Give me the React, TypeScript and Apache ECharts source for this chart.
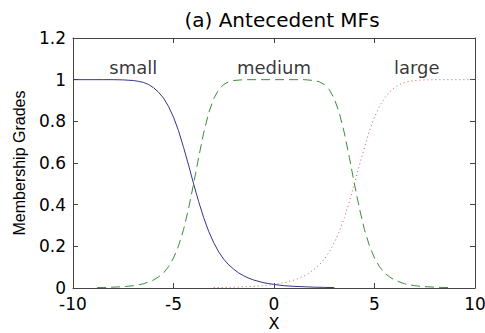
import React, { useEffect, useRef } from "react";
import * as echarts from "echarts";

const smallX = [-10, -9.5, -9, -8.5, -8, -7.5, -7, -6.75, -6.5, -6.25, -6, -5.75, -5.5, -5.25, -5, -4.75, -4.5, -4.25, -4, -3.75, -3.5, -3.25, -3, -2.75, -2.5, -2.25, -2, -1.75, -1.5, -1.25, -1, -0.5, 0, 0.5, 1, 1.5, 2, 2.5, 3];
const smallY = [1, 1, 1, 1, 1, 0.999, 0.996, 0.992, 0.987, 0.977, 0.962, 0.94, 0.912, 0.872, 0.82, 0.755, 0.675, 0.59, 0.5, 0.415, 0.338, 0.272, 0.218, 0.173, 0.138, 0.111, 0.09, 0.072, 0.058, 0.047, 0.038, 0.025, 0.017, 0.011, 0.008, 0.006, 0.004, 0.003, 0.002];

const mediumX = [-8.8, -8.5, -8, -7.5, -7, -6.5, -6, -5.75, -5.5, -5.25, -5, -4.75, -4.5, -4.25, -4, -3.75, -3.5, -3.25, -3, -2.75, -2.5, -2.25, -2, -1.5, -1, -0.5, 0, 0.5, 1, 1.5, 2, 2.25, 2.5, 2.75, 3, 3.25, 3.5, 3.75, 4, 4.25, 4.5, 4.75, 5, 5.25, 5.5, 5.75, 6, 6.5, 7, 7.5, 8, 8.5, 8.8];
const mediumY = [0.002, 0.0024, 0.004, 0.0065, 0.011, 0.02, 0.038, 0.053, 0.072, 0.102, 0.144, 0.202, 0.28, 0.382, 0.5, 0.626, 0.744, 0.84, 0.909, 0.952, 0.977, 0.99, 0.996, 1, 1, 1, 1, 1, 1, 1, 0.996, 0.99, 0.977, 0.952, 0.909, 0.84, 0.744, 0.626, 0.5, 0.382, 0.28, 0.202, 0.144, 0.102, 0.072, 0.053, 0.038, 0.02, 0.011, 0.0065, 0.004, 0.0024, 0.002];

const largeX = [-3, -2.5, -2, -1.5, -1, -0.5, 0, 0.5, 1, 1.25, 1.5, 1.75, 2, 2.25, 2.5, 2.75, 3, 3.25, 3.5, 3.75, 4, 4.25, 4.5, 4.75, 5, 5.25, 5.5, 5.75, 6, 6.25, 6.5, 6.75, 7, 7.5, 8, 8.5, 9, 9.5, 10];
const largeY = [0.002, 0.003, 0.004, 0.006, 0.008, 0.011, 0.017, 0.025, 0.038, 0.047, 0.058, 0.072, 0.09, 0.111, 0.138, 0.173, 0.218, 0.272, 0.338, 0.415, 0.5, 0.59, 0.675, 0.755, 0.82, 0.872, 0.912, 0.94, 0.962, 0.977, 0.987, 0.992, 0.996, 0.999, 1, 1, 1, 1, 1];

const labelNames = ["small", "medium", "large"];
const labelX = [-7, 0, 7.1];
const labelY = [1.06, 1.06, 1.06];

const xTicks = { min: -10, max: 10, interval: 5 };
const yTicks = { min: 0, max: 1.2, interval: 0.2 };

const zip = (xs: number[], ys: number[]) => xs.map((x, i) => [x, ys[i]]);

export default function App() {
  const ref = useRef<HTMLDivElement>(null);
  useEffect(() => {
    if (!ref.current) return;
    const chart = echarts.init(ref.current, null, { renderer: "svg" });
    const wide = "DejaVu Sans";
    const axisColor = "#444";
    const tickStyle = { show: true, inside: true, length: 5, lineStyle: { color: axisColor } };
    const line = { show: true, onZero: false, lineStyle: { color: axisColor } };
    chart.setOption({
      animation: false,
      backgroundColor: "#fff",
      title: {
        text: "(a) Antecedent MFs",
        left: 277,
        top: 5,
        textAlign: "center",
        textStyle: { fontFamily: wide, fontSize: 20, fontWeight: "normal", color: "#000" },
      },
      grid: { left: 73, right: 10, top: 38, bottom: 45, containLabel: false, outerBoundsMode: "none" },
      xAxis: [
        {
          type: "value",
          ...xTicks,
          position: "bottom",
          name: "X",
          nameLocation: "middle",
          nameGap: 27,
          nameMoveOverlap: false,
          nameTextStyle: { fontFamily: wide, fontSize: 16, color: "#000", lineHeight: 16 },
          axisLine: line,
          axisTick: tickStyle,
          axisLabel: { fontFamily: wide, fontSize: 17, color: "#000", margin: 9, lineHeight: 14 },
          splitLine: { show: false },
        },
        {
          type: "value",
          ...xTicks,
          position: "top",
          axisLine: line,
          axisTick: tickStyle,
          axisLabel: { show: false },
          splitLine: { show: false },
        },
      ],
      yAxis: [
        {
          type: "value",
          ...yTicks,
          position: "left",
          name: "Membership Grades",
          nameLocation: "middle",
          nameGap: 46,
          nameMoveOverlap: false,
          nameTextStyle: { fontFamily: "Liberation Sans", fontSize: 16, color: "#000" },
          axisLine: line,
          axisTick: tickStyle,
          axisLabel: { fontFamily: wide, fontSize: 17, color: "#000", margin: 7, lineHeight: 14 },
          splitLine: { show: false },
        },
        {
          type: "value",
          ...yTicks,
          position: "right",
          axisLine: line,
          axisTick: tickStyle,
          axisLabel: { show: false },
          splitLine: { show: false },
        },
      ],
      series: [
        {
          type: "line",
          name: "small",
          data: zip(smallX, smallY),
          showSymbol: false,
          lineStyle: { color: "#34348f", width: 1, type: "solid" },
        },
        {
          type: "line",
          name: "medium",
          data: zip(mediumX, mediumY),
          showSymbol: false,
          lineStyle: { color: "#3c8c3c", width: 1, type: [9, 5] },
        },
        {
          type: "line",
          name: "large",
          data: zip(largeX, largeY),
          showSymbol: false,
          lineStyle: { color: "#cc5a5a", width: 1, type: [1, 3] },
        },
        {
          type: "scatter",
          symbolSize: 0,
          data: labelNames.map((n, i) => ({ name: n, value: [labelX[i], labelY[i]] })),
          label: {
            show: true,
            position: "inside",
            formatter: (p: any) => p.name,
            fontFamily: wide,
            fontSize: 18,
            color: "#000",
          },
          silent: true,
        },
      ],
    });
    return () => chart.dispose();
  }, []);
  return <div ref={ref} style={{ position: "absolute", left: 0, top: 0, width: 485, height: 333 }} />;
}
